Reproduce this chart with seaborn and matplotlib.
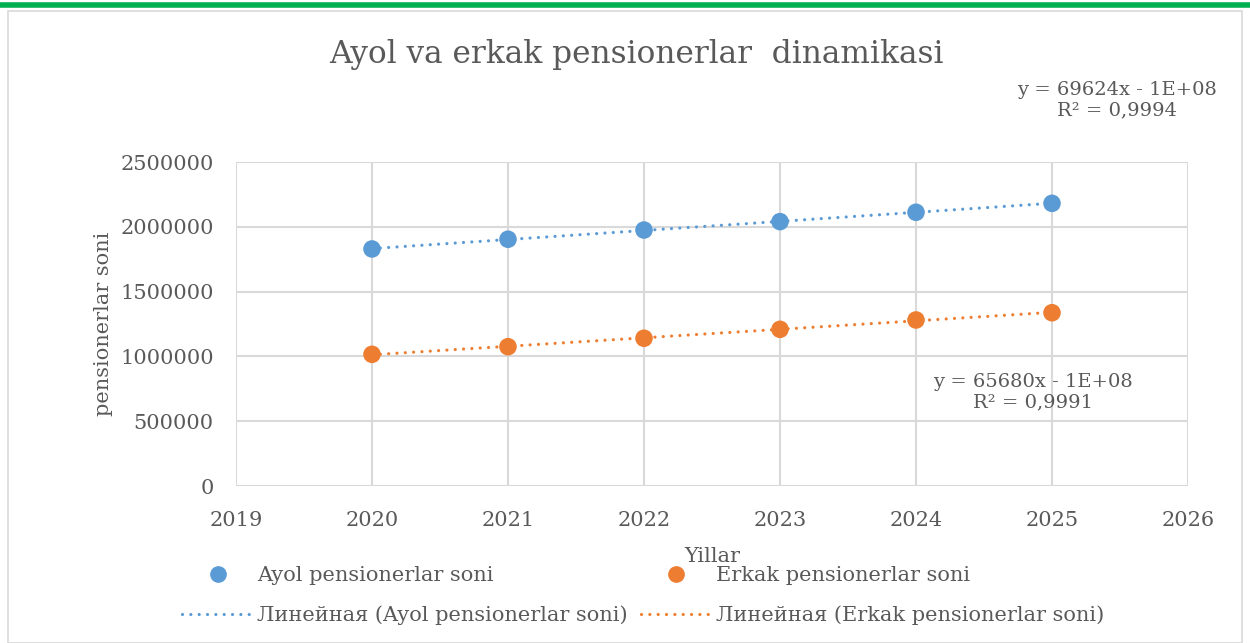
import numpy as np
import pandas as pd
import matplotlib
matplotlib.use("Agg")
import matplotlib.pyplot as plt
import seaborn as sns
from matplotlib.lines import Line2D
from matplotlib.patches import Rectangle

years = [2020, 2021, 2022, 2023, 2024, 2025]
ayol = [1829000, 1904000, 1975000, 2040000, 2112000, 2181000]
erkak = [1016000, 1075000, 1140000, 1209000, 1281000, 1337000]
series_names = ["Ayol pensionerlar soni", "Erkak pensionerlar soni"]
trend_names = ["Линейная (Ayol pensionerlar soni)", "Линейная (Erkak pensionerlar soni)"]
eq_labels = ["y = 69624x - 1E+08\nR² = 0,9994", "y = 65680x - 1E+08\nR² = 0,9991"]
title = "Ayol va erkak pensionerlar  dinamikasi"
xlabel = "Yillar"
ylabel = "pensionerlar soni"
yticks = [0, 500000, 1000000, 1500000, 2000000, 2500000]
xticks = [2019, 2020, 2021, 2022, 2023, 2024, 2025, 2026]

sns.set_theme(style="whitegrid")
plt.rcParams['font.family'] = ['DejaVu Serif']
TXT = "#595959"
GRID = "#D9D9D9"
colors = ["#5B9BD5", "#ED7D31"]
DOT = (0, (0.01, 2.6))

df = pd.DataFrame({"year": years * 2,
                   "value": ayol + erkak,
                   "series": [series_names[0]] * 6 + [series_names[1]] * 6})

fig = plt.figure(figsize=(12.5, 6.43), dpi=100)
ax = fig.add_axes([236/1250, 1-486/643, (1188-236)/1250, (486-162)/643])

# trendlines
for vals, c in zip([ayol, erkak], colors):
    k, b = np.polyfit(years, vals, 1)
    xs = np.array([years[0], years[-1]])
    ax.plot(xs, k*xs + b, color=c, lw=2.3, linestyle=DOT,
            dash_capstyle="round", zorder=2)

sns.scatterplot(data=df, x="year", y="value", hue="series", palette=colors,
                s=160, edgecolor="none", ax=ax, legend=False, zorder=3)

ax.set_xlim(2019, 2026)
ax.set_ylim(0, 2500000)
ax.set_xticks(xticks)
ax.set_yticks(yticks)
ax.set_xticklabels([str(t) for t in xticks])
ax.set_yticklabels([str(t) for t in yticks])
ax.grid(True, color=GRID, lw=1.5)
for s in ax.spines.values():
    s.set_visible(False)
ax.tick_params(axis="both", labelsize=15, colors=TXT, length=0)
ax.tick_params(axis="x", pad=18)
ax.tick_params(axis="y", pad=16)
ax.set_xlabel(xlabel, fontsize=15, color=TXT, labelpad=12)
ax.set_ylabel(ylabel, fontsize=15, color=TXT, labelpad=5)

fig.text(636/1250, 1-55/643, title, fontsize=22.5, color=TXT, ha="center", va="center")
fig.text(1117/1250, 1-100/643, eq_labels[0], fontsize=14, color=TXT, ha="center",
         va="center", linespacing=1.15)
fig.text(1033/1250, 1-392/643, eq_labels[1], fontsize=14, color=TXT, ha="center",
         va="center", linespacing=1.15)

handles = [
    Line2D([], [], marker="o", color=colors[0], linestyle="none", markersize=11),
    Line2D([], [], color=colors[0], lw=2.3, linestyle=DOT, dash_capstyle="round"),
    Line2D([], [], marker="o", color=colors[1], linestyle="none", markersize=11),
    Line2D([], [], color=colors[1], lw=2.3, linestyle=DOT, dash_capstyle="round"),
]
labels = [series_names[0], trend_names[0], series_names[1], trend_names[1]]
leg = fig.legend(handles, labels, ncol=2, loc="upper left",
                 bbox_to_anchor=(172/1250, 1-556/643), frameon=False,
                 fontsize=15, handlelength=3.4, handletextpad=0.2,
                 columnspacing=0.6, labelspacing=0.95, borderpad=0)
for t in leg.get_texts():
    t.set_color(TXT)

# chart frame and top green bar
fig.add_artist(Rectangle((8/1250, 0), 1-16/1250, 1-11/643, transform=fig.transFigure,
                         fill=False, edgecolor="#D9D9D9", lw=1.2))
fig.add_artist(Line2D([0, 1], [1-5/643, 1-5/643], transform=fig.transFigure,
                      color="#00B050", lw=4))

fig.savefig("out.png", dpi=100, facecolor="white")
